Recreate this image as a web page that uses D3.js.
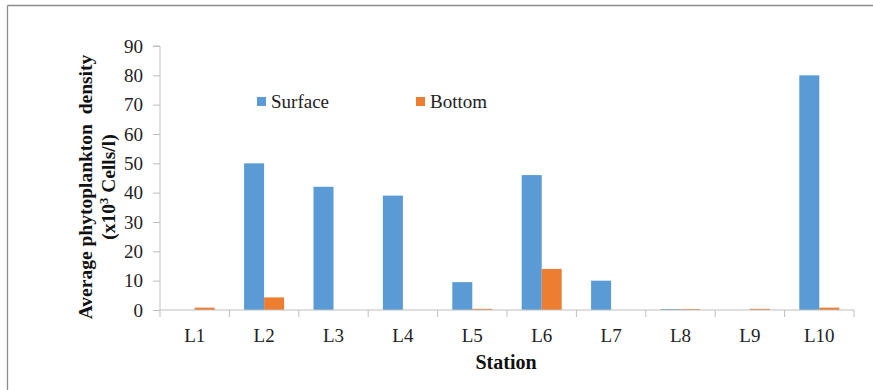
<!DOCTYPE html>
<html><head><meta charset="utf-8">
<script src="https://cdn.jsdelivr.net/npm/d3@7"></script>
<style>body{margin:0;background:#fff}svg{display:block}</style>
</head><body>
<script>
const stations = ["L1","L2","L3","L4","L5","L6","L7","L8","L9","L10"];
const surface = [0, 50, 42, 39, 9.5, 46, 10, 0.3, 0, 80];
const bottom = [0.8, 4.3, 0, 0, 0.4, 14, 0, 0.3, 0.4, 0.8];
const seriesNames = ["Surface","Bottom"];
const colors = ["#5B9BD5","#ED7D31"];
const yTicks = [0,10,20,30,40,50,60,70,80,90];

(function () {
const W = 873, H = 390;
const svg = d3.select("body").append("svg").attr("width", W).attr("height", H);
svg.append("rect").attr("width", W).attr("height", H).attr("fill", "#fff");
svg.append("line").attr("x1", 7.5).attr("x2", W).attr("y1", 5.5).attr("y2", 5.5).attr("stroke", "#8c8c8c").attr("stroke-width", 1.3);
svg.append("line").attr("x1", 7.5).attr("x2", 7.5).attr("y1", 5.5).attr("y2", H).attr("stroke", "#8c8c8c").attr("stroke-width", 1.3);

const pl = 160, pr = 854, pt = 46, pb = 310;
const x = d3.scaleBand().domain(stations).range([pl, pr]).padding(0);
const x1 = d3.scaleBand().domain(seriesNames).range([14.7, 54.7]);
const y = d3.scaleLinear().domain([0, 90]).range([pb, pt]);

const data = stations.map((s, i) => ({station: s, vals: [surface[i], bottom[i]]}));

const g = svg.append("g");
data.forEach(d => {
  d.vals.forEach((v, j) => {
    if (v <= 0) return;
    g.append("rect")
      .attr("x", x(d.station) + x1(seriesNames[j]))
      .attr("width", x1.bandwidth())
      .attr("y", y(v))
      .attr("height", y(0) - y(v))
      .attr("fill", colors[j]);
  });
});

const font = "'Liberation Serif','Times New Roman',serif";
const fs = 19;
const yAxis = svg.append("g").attr("transform", `translate(${pl},0)`)
  .call(d3.axisLeft(y).tickValues(yTicks).tickSize(7).tickPadding(10));
yAxis.select(".domain").attr("stroke", "#bfbfbf").attr("d", `M-7,${pt}H0V${pb}`);
yAxis.selectAll(".tick line").attr("stroke", "#bfbfbf");
yAxis.selectAll(".tick text").attr("font-family", font).attr("font-size", fs).attr("fill", "#222");

const xAxis = svg.append("g").attr("transform", `translate(0,${pb})`)
  .call(d3.axisBottom(x).tickSize(0).tickPadding(19));
xAxis.select(".domain").attr("stroke", "#bfbfbf").attr("d", `M${pl},0H${pr}V7`);
xAxis.selectAll(".tick text").attr("font-family", font).attr("font-size", fs).attr("fill", "#222");
xAxis.selectAll(".tickb").data(stations).enter().append("line")
  .attr("x1", d => x(d)).attr("x2", d => x(d)).attr("y1", 0).attr("y2", 7)
  .attr("stroke", "#bfbfbf");

svg.append("text").attr("x", 506).attr("y", 369).attr("text-anchor", "middle")
  .attr("font-family", font).attr("font-weight", "bold").attr("font-size", 20).attr("fill", "#111")
  .text("Station");

const yt = svg.append("text").attr("transform", "translate(0,187) rotate(-90)")
  .attr("text-anchor", "middle").attr("font-family", font).attr("font-weight", "bold")
  .attr("font-size", 19.5).attr("fill", "#111").attr("xml:space", "preserve").style("white-space", "pre");
yt.append("tspan").attr("x", 0).attr("y", 92).text("Average phytoplankton  density");
const t2 = yt.append("tspan").attr("x", 0).attr("y", 115);
t2.append("tspan").text("(x10");
t2.append("tspan").attr("dy", -7).attr("font-size", 12.5).text("3");
t2.append("tspan").attr("dy", 7).text(" Cells/l)");

const legX = [257, 416];
seriesNames.forEach((n, j) => {
  svg.append("rect").attr("x", legX[j]).attr("y", 97).attr("width", 9).attr("height", 9).attr("fill", colors[j]);
  svg.append("text").attr("x", legX[j] + 14).attr("y", 108)
    .attr("font-family", font).attr("font-size", fs).attr("fill", "#222").text(n);
});
})();
</script>
</body></html>
